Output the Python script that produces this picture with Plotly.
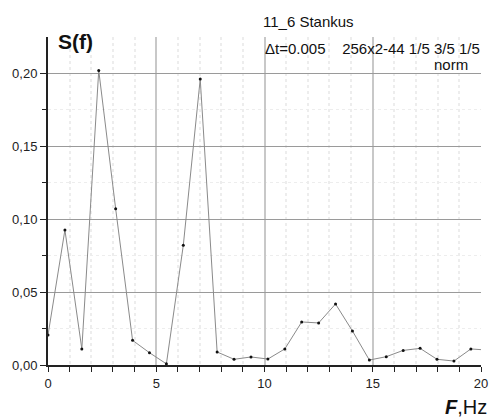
import plotly.graph_objects as go

df = 200.0 / 256.0
freq = [k * df for k in range(27)]
S = [0.0205, 0.0925, 0.011, 0.2018, 0.107, 0.0169, 0.0084, 0.0008, 0.082, 0.1959,
     0.0089, 0.0039, 0.0055, 0.0041, 0.011, 0.0295, 0.0288, 0.0418, 0.0233, 0.0034,
     0.0057, 0.010, 0.0114, 0.0039, 0.0027, 0.011, 0.0102]

fig = go.Figure()
fig.add_trace(go.Scatter(
    x=freq, y=S, mode="lines+markers",
    line=dict(color="#8a8a8a", width=1),
    marker=dict(color="#111111", size=3),
    showlegend=False,
))

font = "Liberation Sans, Arial, sans-serif"
fig.update_layout(
    width=494, height=417,
    margin=dict(l=48, r=13, t=37, b=52),
    paper_bgcolor="white", plot_bgcolor="white",
    separators=",.",
    font=dict(family=font, size=13, color="#222"),
    xaxis=dict(
        range=[0, 20], tick0=0, dtick=5, tickformat="d",
        showline=True, linecolor="#222", linewidth=2,
        ticks="outside", ticklen=5, tickcolor="#222", tickwidth=1,
        showgrid=True, gridcolor="#c8c8c8", gridwidth=2,
        zeroline=False, automargin=False,
        minor=dict(dtick=1, ticks="outside", ticklen=5, tickcolor="#222",
                   showgrid=True, gridcolor="#ededed", griddash="dot"),
        tickfont=dict(size=13, family=font),
    ),
    yaxis=dict(
        range=[0, 0.2247], tick0=0, dtick=0.05, tickformat=".2f",
        showline=True, linecolor="#222", linewidth=2,
        ticks="outside", ticklen=6, tickcolor="#222", tickwidth=1,
        showgrid=True, gridcolor="#9a9a9a", gridwidth=1,
        zeroline=False, automargin=False,
        minor=dict(dtick=0.025, ticks="outside", ticklen=4, tickcolor="#222",
                   showgrid=True, gridcolor="#ededed", griddash="dot"),
        tickfont=dict(size=13, family=font),
    ),
)

anns = [
    dict(text="<b>S(f)</b>", x=56, y=28, size=21),
    dict(text="11_6 Stankus", x=261, y=11, size=15),
    dict(text="\u0394t=0.005&nbsp;&nbsp;&nbsp;&nbsp;256x2-44 1/5 3/5 1/5", x=263, y=38, size=15),
    dict(text="norm", x=432, y=54, size=15),
    dict(text="<b><i>F</i></b>,Hz", x=443, y=394, size=20),
]
for a in anns:
    fig.add_annotation(
        text=a["text"], xref="paper", yref="paper",
        x=(a["x"] - 48) / (494 - 48 - 13), y=1 - (a["y"] - 37) / (417 - 37 - 52),
        xanchor="left", yanchor="top", showarrow=False,
        font=dict(size=a["size"], family=font, color="#111"),
    )

fig.write_html("out.html")
